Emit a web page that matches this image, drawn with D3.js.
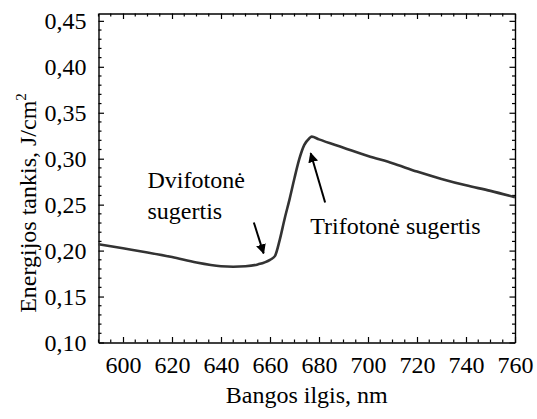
<!DOCTYPE html>
<html>
<head>
<meta charset="utf-8">
<script src="https://cdn.jsdelivr.net/npm/d3@7"></script>
</head>
<body style="margin:0">
<script>
const width = 537;
const height = 419;
const margin = {top: 13.5, right: 22, bottom: 76.5, left: 98.5};

// wavelength, nm
const wavelength = [590, 600, 610, 620, 630, 640, 645, 650, 655, 660, 662, 664, 666, 668, 670, 672, 674, 676, 677, 680, 690, 700, 710, 720, 730, 740, 750, 760];
// energy density, J/cm2
const energy = [0.207, 0.2025, 0.198, 0.193, 0.187, 0.183, 0.1825, 0.183, 0.185, 0.190, 0.194, 0.212, 0.235, 0.256, 0.279, 0.300, 0.315, 0.322, 0.324, 0.321, 0.312, 0.303, 0.295, 0.286, 0.278, 0.271, 0.265, 0.258];

const xTicks = [600, 620, 640, 660, 680, 700, 720, 740, 760];
const yTicks = [0.10, 0.15, 0.20, 0.25, 0.30, 0.35, 0.40, 0.45];

const notes = [
  {text: "Dvifotonė", x: 610, y: 0.268},
  {text: "sugertis", x: 610, y: 0.2345},
  {text: "Trifotonė sugertis", x: 676.4, y: 0.2185}
];
const arrows = [
  {x1: 653.4, y1: 0.2306, x2: 657.4, y2: 0.197},
  {x1: 682.5, y1: 0.2523, x2: 676.6, y2: 0.306}
];

const fontFam = "Times New Roman";
const data = wavelength.map((w, i) => ({w, e: energy[i]}));

const x = d3.scaleLinear().domain([590, 760]).range([margin.left, width - margin.right]);
const y = d3.scaleLinear().domain([0.10, 0.458]).range([height - margin.bottom, margin.top]);

const svg = d3.select("body").append("svg")
  .attr("width", width).attr("height", height);

svg.append("defs").append("marker")
  .attr("id", "head")
  .attr("viewBox", "0 0 10 10")
  .attr("refX", 9).attr("refY", 5)
  .attr("markerWidth", 5).attr("markerHeight", 6)
  .attr("markerUnits", "strokeWidth")
  .attr("orient", "auto")
  .append("path").attr("d", "M0,0 L10,5 L0,10 z").attr("fill", "#000");

const fmt = d => d3.format(".2f")(d).replace(".", ",");
const xMinor = d3.range(590, 761, 5).filter(v => v % 20 !== 0);
const yMinor = d3.range(10, 46, 1).map(v => v / 100).filter(v => Math.round(v * 100) % 5 !== 0);

// minor ticks, dir gives the inward direction
function minorX(g, dir) {
  g.selectAll("line.minor").data(xMinor).join("line").attr("class", "minor")
    .attr("stroke", "#000").attr("stroke-width", 1.2)
    .attr("x1", d => x(d)).attr("x2", d => x(d)).attr("y1", 0).attr("y2", 3 * dir);
}
function minorY(g, dir) {
  g.selectAll("line.minor").data(yMinor).join("line").attr("class", "minor")
    .attr("stroke", "#000").attr("stroke-width", 1.2)
    .attr("y1", d => y(d)).attr("y2", d => y(d)).attr("x1", 0).attr("x2", 3 * dir);
}

// bottom
svg.append("g").attr("transform", `translate(0,${height - margin.bottom})`)
  .call(d3.axisBottom(x).tickValues(xTicks).tickSizeInner(-5.5).tickSizeOuter(0).tickPadding(13))
  .call(g => minorX(g, -1));
// top
svg.append("g").attr("transform", `translate(0,${margin.top})`)
  .call(d3.axisTop(x).tickValues(xTicks).tickSizeInner(-5.5).tickSizeOuter(0).tickFormat(""))
  .call(g => minorX(g, 1));
// left
svg.append("g").attr("transform", `translate(${margin.left},0)`)
  .call(d3.axisLeft(y).tickValues(yTicks).tickFormat(fmt).tickSizeInner(-5.5).tickSizeOuter(0).tickPadding(12))
  .call(g => minorY(g, 1));
// right
svg.append("g").attr("transform", `translate(${width - margin.right},0)`)
  .call(d3.axisRight(y).tickValues(yTicks).tickSizeInner(-5.5).tickSizeOuter(0).tickFormat(""))
  .call(g => minorY(g, -1));

svg.selectAll("g").attr("font-family", fontFam).attr("font-size", 24);
svg.selectAll(".domain").attr("stroke", "#000").attr("stroke-width", 1.4);
svg.selectAll(".tick line").attr("stroke", "#000").attr("stroke-width", 1.2);
svg.selectAll(".tick text")
  .style("font-family", fontFam)
  .style("font-size", "24px")
  .attr("fill", "#000");

const line = d3.line().x(d => x(d.w)).y(d => y(d.e)).curve(d3.curveMonotoneX);

svg.append("path").datum(data)
  .attr("fill", "none")
  .attr("stroke", "#333")
  .attr("stroke-width", 2.6)
  .attr("stroke-linejoin", "round")
  .attr("d", line);

svg.selectAll("line.arrow").data(arrows).join("line")
  .attr("class", "arrow")
  .attr("x1", d => x(d.x1)).attr("y1", d => y(d.y1))
  .attr("x2", d => x(d.x2)).attr("y2", d => y(d.y2))
  .attr("stroke", "#000").attr("stroke-width", 2)
  .attr("marker-end", "url(#head)");

svg.selectAll("text.note").data(notes).join("text")
  .attr("class", "note")
  .attr("x", d => x(d.x)).attr("y", d => y(d.y))
  .style("font-family", fontFam)
  .style("font-size", "24px")
  .text(d => d.text);

svg.append("text")
  .attr("x", (margin.left + width - margin.right) / 2)
  .attr("y", 403)
  .attr("text-anchor", "middle")
  .style("font-family", fontFam)
  .style("font-size", "24px")
  .text("Bangos ilgis, nm");

const yt = svg.append("text")
  .attr("transform", `translate(36,${(margin.top + height - margin.bottom) / 2 + 25}) rotate(-90)`)
  .attr("text-anchor", "middle")
  .style("font-family", fontFam)
  .style("font-size", "24px");
yt.append("tspan").text("Energijos tankis, J/cm");
yt.append("tspan").attr("dy", -10).style("font-size", "15px").text("2");
</script>
</body>
</html>
